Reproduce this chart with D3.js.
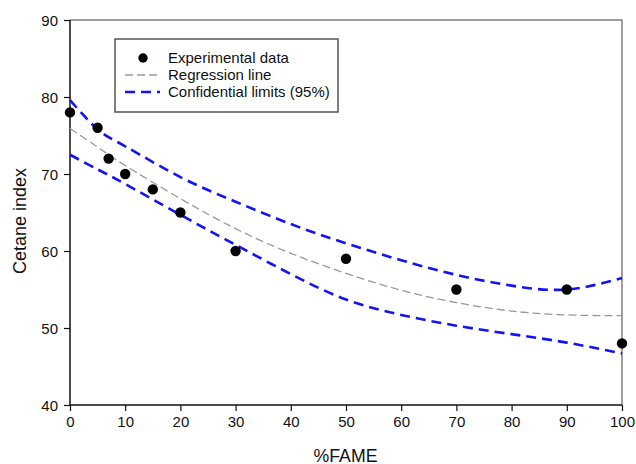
<!DOCTYPE html>
<html><head><meta charset="utf-8">
<script src="https://cdn.jsdelivr.net/npm/d3@7"></script>
<style>body{margin:0;background:#fff}svg{display:block}text{font-family:"Liberation Sans",Arial,sans-serif}</style>
</head><body><svg id="c" width="636" height="464"></svg>
<script>
// Data
const fame = [0, 5, 7, 10, 15, 20, 30, 50, 70, 90, 100];
const cetane = [78, 76, 72, 70, 68, 65, 60, 59, 55, 55, 48];
const curveX = [0, 5, 10, 20, 30, 40, 50, 60, 70, 80, 90, 100];
const regression = [75.9, 73.5, 71.1, 66.8, 62.9, 59.7, 57.1, 54.9, 53.3, 52.2, 51.7, 51.6];
const upperLimit = [79.6, 75.8, 73.6, 69.6, 66.4, 63.5, 61.0, 58.8, 56.9, 55.5, 55.0, 56.5];
const lowerLimit = [72.5, 70.6, 68.7, 64.7, 60.8, 57.0, 53.7, 51.7, 50.3, 49.2, 48.1, 46.7];
const xTicks = [0, 10, 20, 30, 40, 50, 60, 70, 80, 90, 100];
const yTicks = [40, 50, 60, 70, 80, 90];

const svg = d3.select("#c");
const L = 70, R = 622, T = 20, B = 405;
const x = d3.scaleLinear().domain([0, 100]).range([L, R]);
const y = d3.scaleLinear().domain([40, 90]).range([B, T]);

// frame (top and right, gray)
svg.append("path").attr("d", `M${L},${T}H${R}V${B}`).attr("fill", "none")
  .attr("stroke", "#808080").attr("stroke-width", 1.5);

// axes
const xAxis = d3.axisBottom(x).tickValues(xTicks).tickSize(6).tickPadding(5).tickFormat(d3.format("d"));
const yAxis = d3.axisLeft(y).tickValues(yTicks).tickSize(6).tickPadding(6).tickFormat(d3.format("d"));
const gx = svg.append("g").attr("transform", `translate(0,${B})`).call(xAxis);
const gy = svg.append("g").attr("transform", `translate(${L},0)`).call(yAxis);
[gx, gy].forEach(g => {
  g.select(".domain").attr("stroke", "#111").attr("stroke-width", 1.5);
  g.selectAll(".tick line").attr("stroke", "#111").attr("stroke-width", 1.2);
  g.selectAll(".tick text").attr("font-size", 15).attr("fill", "#111")
    .style("font-family", "'Liberation Sans',Arial,sans-serif");
});
gx.select(".domain").attr("d", `M${L},0H${R}`);
gy.select(".domain").attr("d", `M0,${B}V${T}`);
gy.selectAll(".tick text").attr("dy", "0.34em");

// axis titles
svg.append("text").attr("x", 345.5).attr("y", 461.5).attr("text-anchor", "middle")
  .attr("font-size", 17.7).attr("fill", "#111").text("%FAME");
svg.append("text").attr("transform", "translate(25.5,221) rotate(-90)").attr("text-anchor", "middle")
  .attr("font-size", 18).attr("fill", "#111").text("Cetane index");

const line = arr => d3.line().x((d, i) => x(curveX[i])).y(d => y(d)).curve(d3.curveNatural)(arr);

svg.append("path").attr("d", line(regression)).attr("fill", "none")
  .attr("stroke", "#999").attr("stroke-width", 1.3).attr("stroke-dasharray", "8,4");
[upperLimit, lowerLimit].forEach(arr => {
  svg.append("path").attr("d", line(arr)).attr("fill", "none")
    .attr("stroke", "#1414f0").attr("stroke-width", 2.6).attr("stroke-dasharray", "10,6");
});

svg.append("g").selectAll("circle").data(fame).join("circle")
  .attr("cx", d => x(d)).attr("cy", (d, i) => y(cetane[i])).attr("r", 5.2).attr("fill", "#000");

// legend
const lg = svg.append("g");
lg.append("rect").attr("x", 115).attr("y", 39).attr("width", 223).attr("height", 73)
  .attr("fill", "#fff").attr("stroke", "#555").attr("stroke-width", 1.5);
lg.append("circle").attr("cx", 143).attr("cy", 58).attr("r", 4.7).attr("fill", "#000");
lg.append("line").attr("x1", 125).attr("x2", 160).attr("y1", 75).attr("y2", 75)
  .attr("stroke", "#999").attr("stroke-width", 1.3).attr("stroke-dasharray", "8,4");
lg.append("line").attr("x1", 125).attr("x2", 160).attr("y1", 92).attr("y2", 92)
  .attr("stroke", "#1414f0").attr("stroke-width", 2.6).attr("stroke-dasharray", "10,6");
const labels = ["Experimental data", "Regression line", "Confidential limits (95%)"];
lg.selectAll("text.l").data(labels).join("text").attr("class", "l")
  .attr("x", 168).attr("y", (d, i) => 58 + i * 17).attr("dy", "0.35em")
  .attr("font-size", 15).attr("fill", "#111").text(d => d);
</script></body></html>
